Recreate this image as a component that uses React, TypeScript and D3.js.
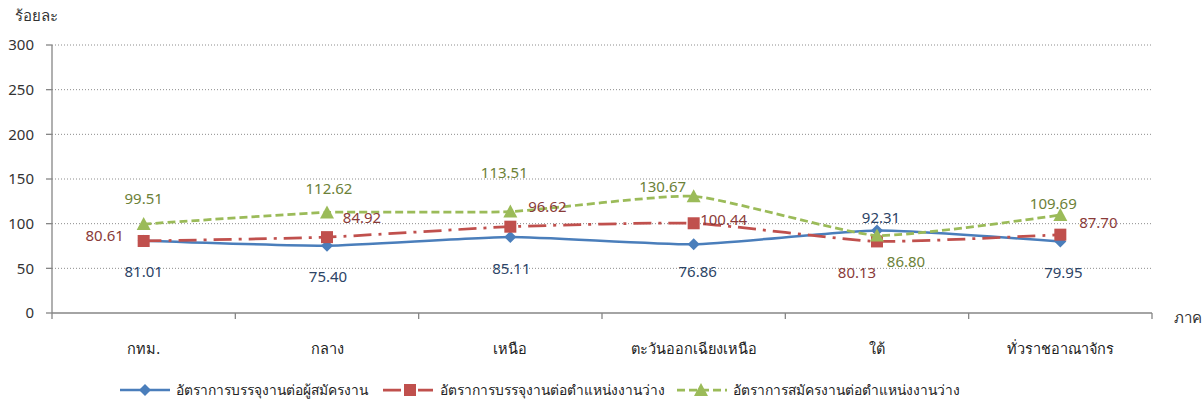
import React from 'react';
import * as d3 from 'd3';

const regions = ['กทม.', 'กลาง', 'เหนือ', 'ตะวันออกเฉียงเหนือ', 'ใต้', 'ทั่วราชอาณาจักร'];
const placementPerApplicant = [81.01, 75.4, 85.11, 76.86, 92.31, 79.95];
const placementPerVacancy = [80.61, 84.92, 96.62, 100.44, 80.13, 87.7];
const applicantPerVacancy = [99.51, 112.62, 113.51, 130.67, 86.8, 109.69];
const yTicks = [0, 50, 100, 150, 200, 250, 300];

// label offsets (text centre relative to marker), tuned by eye
const blueLabelOffsets = [[0, 31], [1, 31], [1, 32], [4, 27], [4, -13], [3, 31]];
const redLabelOffsets = [[-39, -5], [35, -19], [37, -20], [30, -4], [-20, 31], [38, -12]];
const greenLabelOffsets = [[0, -25], [2, -24], [-6, -39], [-31, -10], [29, 26], [-7, -11]];

const W = 1203;
const H = 402;
const margin = { left: 52, right: 51, top: 45, bottom: 89 };
const font = '"Noto Sans", "DejaVu Sans", sans-serif';

type Series = {
  name: string;
  values: number[];
  color: string;
  labelColor: string;
  dash: string;
  width: number;
  marker: 'diamond' | 'square' | 'triangle';
  offsets: number[][];
};

const series: Series[] = [
  { name: 'อัตราการบรรจุงานต่อผู้สมัครงาน', values: placementPerApplicant, color: '#4A7EBB', labelColor: '#2C4466', dash: '', width: 2.5, marker: 'diamond', offsets: blueLabelOffsets },
  { name: 'อัตราการบรรจุงานต่อตำแหน่งงานว่าง', values: placementPerVacancy, color: '#C0504D', labelColor: '#8A3B39', dash: '18 7 3 7', width: 2.75, marker: 'square', offsets: redLabelOffsets },
  { name: 'อัตราการสมัครงานต่อตำแหน่งงานว่าง', values: applicantPerVacancy, color: '#9BBB59', labelColor: '#6C8138', dash: '8 4', width: 2.75, marker: 'triangle', offsets: greenLabelOffsets },
];

const Marker: React.FC<{ type: Series['marker']; x: number; y: number; color: string }> = ({ type, x, y, color }) => {
  if (type === 'diamond') {
    const s = 6;
    return <path d={`M${x},${y - s}L${x + s},${y}L${x},${y + s}L${x - s},${y}Z`} fill={color} />;
  }
  if (type === 'square') {
    return <rect x={x - 6} y={y - 6} width={12} height={12} fill={color} />;
  }
  return <path d={`M${x},${y - 7}L${x + 7},${y + 6}L${x - 7},${y + 6}Z`} fill={color} />;
};

const App: React.FC = () => {
  const innerW = W - margin.left - margin.right;
  const x0 = margin.left;
  const x1 = margin.left + innerW;
  const y0 = H - margin.bottom;

  const xBand = d3.scaleBand<string>().domain(regions).range([x0, x1]);
  const xCenter = (i: number) => xBand(regions[i])! + xBand.bandwidth() / 2;
  const y = d3.scaleLinear().domain([0, 300]).range([y0, margin.top]);

  const line = d3
    .line<number>()
    .x((_, i) => xCenter(i))
    .y(d => y(d))
    .curve(d3.curveCardinal.tension(0.5));

  const boundaries = regions.map(r => xBand(r)!).concat([x1]);

  const legendItems = [
    { lineX: 120, lineW: 50, markerX: 145, textX: 176 },
    { lineX: 383, lineW: 50, markerX: 410, textX: 440 },
    { lineX: 677, lineW: 50, markerX: 701, textX: 733 },
  ];
  const legendY = 390;

  return (
    <svg width={W} height={H} style={{ position: 'absolute', left: 0, top: 0, background: '#fff' }} fontFamily={font}>
      {/* gridlines */}
      {yTicks.filter(t => t > 0).map(t => (
        <line key={t} x1={x0} x2={x1} y1={y(t)} y2={y(t)} stroke="#8c8c8c" strokeWidth={1} strokeDasharray="1 2" />
      ))}
      {/* y axis */}
      <line x1={x0} x2={x0} y1={margin.top} y2={y0} stroke="#868686" strokeWidth={1.3} />
      {yTicks.map(t => (
        <g key={t}>
          <line x1={x0 - 6} x2={x0} y1={y(t)} y2={y(t)} stroke="#868686" strokeWidth={1.3} />
          <text x={34} y={y(t)} dy="0.35em" textAnchor="end" fontSize={15} fill="#333">{t}</text>
        </g>
      ))}
      <text x={15} y={21} fontSize={15} fill="#333">ร้อยละ</text>
      {/* x axis */}
      <line x1={x0} x2={x1} y1={y0} y2={y0} stroke="#868686" strokeWidth={1.3} />
      {boundaries.map((b, i) => (
        <line key={i} x1={b} x2={b} y1={y0} y2={y0 + 6} stroke="#868686" strokeWidth={1.3} />
      ))}
      {regions.map((r, i) => (
        <text key={r} x={xCenter(i)} y={349} dy="0.35em" textAnchor="middle" fontSize={14.5} fill="#222">{r}</text>
      ))}
      <text x={1174} y={318} dy="0.35em" fontSize={15} fill="#333">ภาค</text>
      {/* series */}
      {series.map(s => (
        <g key={s.name}>
          <path d={line(s.values) ?? ''} fill="none" stroke={s.color} strokeWidth={s.width} strokeDasharray={s.dash || undefined} />
          {s.values.map((v, i) => (
            <Marker key={i} type={s.marker} x={xCenter(i)} y={y(v)} color={s.color} />
          ))}
        </g>
      ))}
      {series.map(s => (
        <g key={s.name + '-labels'}>
          {s.values.map((v, i) => (
            <text key={i} x={xCenter(i) + s.offsets[i][0]} y={y(v) + s.offsets[i][1]} dy="0.35em" textAnchor="middle" fontSize={15} fill={s.labelColor}>
              {v.toFixed(2)}
            </text>
          ))}
        </g>
      ))}
      {/* legend */}
      {series.map((s, i) => {
        const it = legendItems[i];
        return (
          <g key={s.name + '-legend'}>
            <line x1={it.lineX} x2={it.lineX + it.lineW} y1={legendY} y2={legendY} stroke={s.color} strokeWidth={s.width} strokeDasharray={s.dash || undefined} />
            <Marker type={s.marker} x={it.markerX} y={legendY} color={s.color} />
            <text x={it.textX} y={legendY} dy="0.35em" fontSize={13.8} fill="#222">{s.name}</text>
          </g>
        );
      })}
    </svg>
  );
};

export default App;
